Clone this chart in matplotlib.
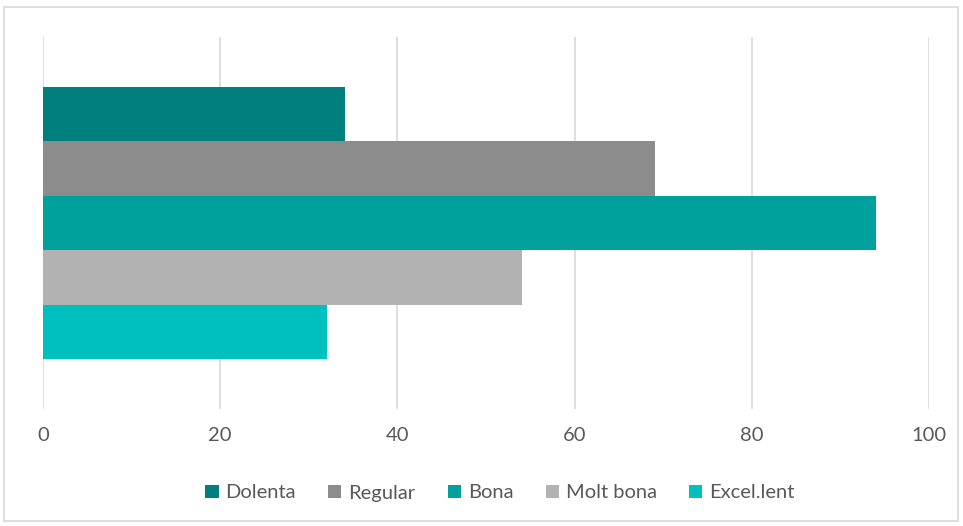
import matplotlib.pyplot as plt
from matplotlib.patches import Rectangle

plt.rcParams['font.family'] = ['Lato', 'DejaVu Sans']

series = ["Dolenta", "Regular", "Bona", "Molt bona", "Excel.lent"]
values = [34.1, 69.1, 94.0, 54.1, 32.05]
colors = ["#007f7f", "#8c8c8c", "#00a09d", "#b2b2b2", "#00bfbf"]
xticks = [0, 20, 40, 60, 80, 100]

fig = plt.figure(figsize=(9.63, 5.26), dpi=100)
ax = fig.add_axes([43 / 963, 1 - 409 / 526, 886 / 963, 372 / 526])

for i, (name, v, c) in enumerate(zip(series, values, colors)):
    ax.barh(i, v, height=1.0, color=c, label=name, zorder=3)

ax.set_xlim(0, 100)
half = 372 / 54.5 / 2
ax.set_ylim(2 + half, 2 - half)
ax.set_xticks(xticks)
ax.set_yticks([])
ax.grid(axis="x", color="#d9d9d9", linewidth=1.2, zorder=0)
for s in ax.spines.values():
    s.set_visible(False)
ax.tick_params(axis="x", length=0, pad=13, labelsize=14.5, labelcolor="#595959")

fig.legend(loc="center", bbox_to_anchor=(500 / 963, 1 - 493 / 526), ncol=5,
           frameon=False, fontsize=14.5, labelcolor="#595959",
           handlelength=0.65, handleheight=0.65, handletextpad=0.35, columnspacing=1.6)

fig.patches.append(Rectangle((4 / 963, 1 - 521 / 526), 954 / 963, 514 / 526,
                             transform=fig.transFigure, fill=False,
                             edgecolor="#d9d9d9", linewidth=1.2))

fig.savefig("out.png", dpi=100)
